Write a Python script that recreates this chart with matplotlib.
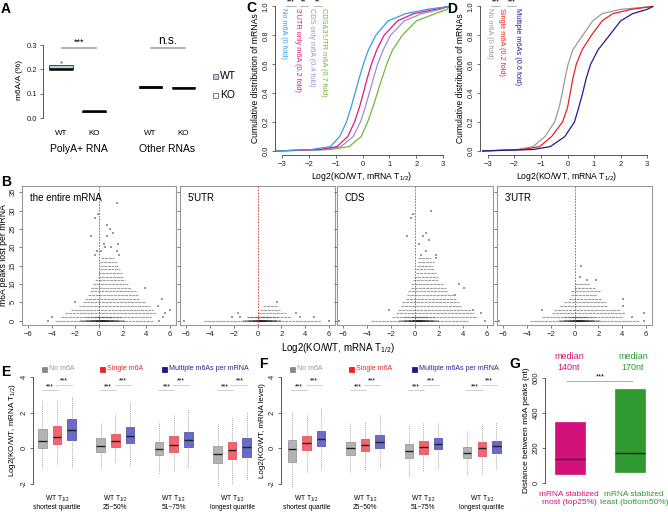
import matplotlib
matplotlib.use('Agg')
import matplotlib.pyplot as plt
from matplotlib.patches import Rectangle

plt.rcParams['font.family'] = ['Liberation Sans', 'DejaVu Sans']
plt.rcParams['mathtext.fontset'] = 'custom'
plt.rcParams['mathtext.rm'] = 'Liberation Sans'
plt.rcParams['mathtext.it'] = 'Liberation Sans:italic'
plt.rcParams['mathtext.bf'] = 'Liberation Sans:bold'

# ---------------- DATA ----------------
# Panel A
a_samples = ['WT', 'KO', 'WT', 'KO']
a_groups = ['PolyA+ RNA', 'Other RNAs']
a_q1 = [0.200, 0.026, 0.124, 0.123]
a_med = [0.201, 0.027, 0.126, 0.125]
a_q3 = [0.217, 0.029, 0.130, 0.126]
a_outliers = [0.232]
a_signif = ['***', 'n.s.']

# Panel C (cumulative distributions: x at given cumulative levels)
cdf_levels = [0.0, 0.01, 0.03, 0.1, 0.2, 0.3, 0.4, 0.5, 0.6, 0.7, 0.8, 0.9, 0.95, 0.98, 1.0]
c_labels = ['No m6A (0 fold)', "3'UTR only m6A (0.2 fold)", 'CDS only m6A (0.4 fold)', "CDS&3'UTR m6A (0.7 fold)"]
c_no = [-3.2, -1.9, -1.2, -0.85, -0.6, -0.43, -0.28, -0.13, 0.03, 0.22, 0.49, 0.95, 1.6, 2.4, 3.2]
c_utr3 = [-3.2, -1.6, -0.95, -0.55, -0.3, -0.12, 0.03, 0.17, 0.33, 0.53, 0.8, 1.3, 1.9, 2.7, 3.2]
c_cds = [-3.2, -1.4, -0.8, -0.35, -0.08, 0.1, 0.25, 0.4, 0.56, 0.77, 1.04, 1.55, 2.2, 2.9, 3.2]
c_both = [-3.2, -1.2, -0.5, -0.05, 0.19, 0.38, 0.55, 0.72, 0.9, 1.12, 1.48, 2.0, 2.7, 3.15, 3.22]
c_signif = ['***', '**', '**']

# Panel D
d_labels = ['No m6A (0 fold)', 'Single m6A (0.2 fold)', 'Multiple m6As (0.6 fold)']
d_no = [-3.2, -1.9, -1.3, -0.85, -0.49, -0.32, -0.2, -0.1, 0.02, 0.2, 0.57, 0.95, 1.3, 2.0, 3.2]
d_single = [-3.2, -1.7, -1.05, -0.6, -0.19, 0.0, 0.1, 0.2, 0.33, 0.55, 0.9, 1.3, 1.7, 2.4, 3.2]
d_multi = [-3.2, -1.3, -0.65, -0.1, 0.26, 0.42, 0.57, 0.7, 0.87, 1.15, 1.58, 2.0, 2.45, 3.0, 3.22]
d_signif = ['***', '***']

# Panel B (rows of points: peaks lost vs log2 fold change)
b_titles = ['the entire mRNA', "5'UTR", 'CDS', "3'UTR"]
b1_lo = [-3.7, -3.2, -2.9, -2.4, -1.7, -1.35, -1.15, -0.93, -0.8, -0.65, -0.5, -0.37, -0.1, -0.05, 0.05, 0.05, 0.1, 0.15]
b1_hi = [4.6, 4.4, 4.8, 4.6, 4.3, 4.0, 3.4, 3.3, 3.15, 2.7, 2.45, 2.2, 2.0, 1.9, 1.75, 1.6, 1.55, 1.3]
b1_px = [1.5, -0.1, -0.3, 0.7, 0.9, 1.2, -0.65, 0.7, 0.4, 1.6, 0.5, 1.05, -0.2, 0.2, 1.5, -0.3, 1.7, 6.0, 5.6, 5.4, -4.3, -4.0, 5.0, 5.3, 3.9, 5.1, -2.0]
b1_py = [32, 29, 28, 26, 25, 24, 23, 23, 21, 21, 20, 20, 19, 19, 19, 18, 18, 3, 2, 1, 0, 1, 4, 6, 9, 0, 5]
b2_lo = [-4.5, -0.85, 0.0, 0.2, 0.45]
b2_hi = [5.3, 2.8, 2.4, 1.9, 1.7]
b2_px = [-2.1, -1.45, 3.6, 4.7, 1.6, -6.2, 6.0, -1.6, 3.2]
b2_py = [1, 1, 1, 1, 5, 0, 0, 2, 2]
b3_lo = [-3.7, -1.9, -1.6, -1.45, -1.2, -1.05, -0.75, -0.67, -0.6, -0.33, -0.33, -0.2, -0.05, 0.08, 0.08, 0.14, 0.22, 0.28]
b3_hi = [4.4, 5.2, 4.9, 4.7, 3.8, 3.7, 3.4, 3.3, 2.7, 2.6, 2.45, 1.9, 1.9, 1.75, 1.6, 1.47, 1.6, 1.33]
b3_px = [-6.3, 5.8, 1.33, -0.2, -0.33, 0.92, -0.67, 0.64, 1.2, 0.36, 0.9, 0.5, 1.75, 1.75, 3.7, 4.1, 3.3, 4.8, 5.5, -2.2]
b3_py = [0, 0, 30, 29, 28, 24, 23, 23, 22, 21, 19, 18, 18, 17, 10, 9, 7, 3, 2, 3]
b4_lo = [-3.7, -2.7, -1.9, -1.7, -1.2, -0.9, -0.5, -0.33, -0.33, -0.05, 0.08]
b4_hi = [5.4, 4.1, 4.25, 3.8, 2.7, 2.6, 2.2, 1.9, 2.2, 1.75, 1.2]
b4_px = [0.55, 0.45, 1.05, 1.8, -6.3, 5.8, 4.8, 5.8, 4.1, 4.1, -2.7]
b4_py = [15, 12, 11, 11, 0, 0, 1, 2, 4, 6, 3]
b_core_lo = [-1.6, -1.2, -1.3, -1.3]
b_core_hi = [2.2, 2.0, 2.0, 2.1]

# Panels E / F (boxplots; per group: [No m6A, Single m6A, Multiple m6As])
ef_series = ['No m6A', 'Single m6A', 'Multiple m6As per mRNA']
ef_groups = ['WT T$_{1/2}$\nshortest quartile', 'WT T$_{1/2}$\n25~50%', 'WT T$_{1/2}$\n51~75%', 'WT T$_{1/2}$\nlongest quartile']
e_med = [[0.40, 0.62, 1.02], [0.12, 0.40, 0.68], [-0.05, 0.18, 0.45], [-0.33, -0.12, 0.05]]
e_q1 = [[0.00, 0.25, 0.48], [-0.20, 0.05, 0.27], [-0.40, -0.20, 0.05], [-0.80, -0.62, -0.50]]
e_q3 = [[1.08, 1.24, 1.62], [0.55, 0.82, 1.17], [0.35, 0.68, 0.93], [0.12, 0.35, 0.57]]
e_lo = [[-1.10, -0.90, -1.10], [-1.10, -0.80, -1.00], [-1.45, -1.30, -1.10], [-2.10, -2.00, -1.80]]
e_hi = [[2.70, 2.75, 2.95], [1.50, 2.00, 2.60], [1.50, 1.90, 2.20], [1.40, 1.75, 2.10]]
f_med = [[-0.06, 0.27, 0.50], [0.00, 0.17, 0.37], [-0.15, 0.05, 0.22], [-0.27, 0.00, 0.12]]
f_q1 = [[-0.75, -0.12, 0.10], [-0.35, -0.18, 0.00], [-0.52, -0.30, -0.05], [-0.55, -0.42, -0.25]]
f_q3 = [[0.47, 0.70, 0.95], [0.38, 0.50, 0.75], [0.22, 0.40, 0.55], [0.05, 0.35, 0.42]]
f_lo = [[-2.20, -1.35, -1.20], [-1.40, -1.20, -1.10], [-1.60, -1.25, -1.10], [-1.50, -1.45, -1.15]]
f_hi = [[2.05, 1.90, 2.25], [1.45, 1.50, 1.85], [1.30, 1.40, 1.50], [0.95, 1.35, 1.45]]
ef_signif = ['***', '***']

# Panel G
g_labels = ['mRNA stablized\nmost (top25%)', 'mRNA stablized\nleast (bottom50%)']
g_q1 = [55, 65]
g_med = [140, 170]
g_q3 = [350, 535]
g_top = ['median\n140nt', 'median\n170nt']
g_signif = '***'

# ---------------- FIGURE ----------------
W, H = 668, 512
fig = plt.figure(figsize=(W / 100, H / 100), dpi=100)


def px_axes(x0, y0, x1, y1):
    return fig.add_axes([x0 / W, 1 - y1 / H, (x1 - x0) / W, (y1 - y0) / H])


def ftext(x, y, s, **kw):
    return fig.text(x / W, 1 - y / H, s, **kw)


def fsquare(x, y, s, color, ec=None):
    fig.add_artist(Rectangle((x / W, 1 - (y + s / 2) / H), s / W, s / H,
                             transform=fig.transFigure, facecolor=color,
                             edgecolor=ec if ec else color, lw=0.6))


def r_style(ax, left=True, bottom=True):
    for s in ['top', 'right']:
        ax.spines[s].set_visible(False)
    ax.spines['left'].set_visible(left)
    ax.spines['bottom'].set_visible(bottom)
    for s in ['left', 'bottom']:
        ax.spines[s].set_color('#555555')
        ax.spines[s].set_linewidth(0.7)
    ax.tick_params(length=2.5, width=0.6, colors='#555555', labelcolor='#222222', labelsize=5.5, pad=1.5)
    ax.patch.set_alpha(0)


TS = 5.5
# ---------- Panel A ----------
axA = px_axes(43, 40, 200, 121)
a_pos = [1, 2, 3.7, 4.7]
statsA = [dict(med=m, q1=a, q3=b, whislo=a, whishi=b, fliers=[]) for m, a, b in zip(a_med, a_q1, a_q3)]
bA = axA.bxp(statsA, positions=a_pos, widths=0.7, patch_artist=True, showcaps=False, showfliers=False,
             medianprops=dict(color='black', lw=1.8), whiskerprops=dict(lw=0),
             boxprops=dict(lw=0.6))
for i, p in enumerate(bA['boxes']):
    p.set_facecolor('#aed2de' if i % 2 == 0 else 'white')
    p.set_edgecolor('#333333')
axA.plot([1] * len(a_outliers), a_outliers, marker='.', ms=1.5, color='#888888', ls='none')
axA.set_xlim(0.455, 5.21)
axA.set_ylim(-0.0123, 0.3206)
r_style(axA, bottom=False)
axA.spines['left'].set_bounds(0, 0.3)
axA.set_yticks([0.0, 0.1, 0.2, 0.3])
axA.set_yticklabels(['0.0', '0.1', '0.2', '0.3'])
axA.set_xticks([])
axA.set_ylabel('m6A/A (%)', fontsize=6, labelpad=3)
for x, s in zip(a_pos, a_samples):
    axA.text(x, -0.065, s, ha='center', va='center', fontsize=5.8, transform=axA.transData, clip_on=False)
axA.text(1.55, -0.128, a_groups[0], ha='center', va='center', fontsize=7.5, clip_on=False)
axA.text(4.2, -0.128, a_groups[1], ha='center', va='center', fontsize=7.5, clip_on=False)
axA.plot([1.03, 2.05], [0.288, 0.288], color='#aaaaaa', lw=1.3, clip_on=False)
axA.plot([3.73, 4.75], [0.288, 0.288], color='#aaaaaa', lw=1.3, clip_on=False)
axA.text(1.54, 0.293, a_signif[0], ha='center', va='bottom', fontsize=6.5)
axA.text(4.24, 0.293, a_signif[1], ha='center', va='bottom', fontsize=8.5)
fsquare(213, 76, 5, '#aed2de', '#666666')
fsquare(213, 95, 5, 'white', '#666666')
ftext(220, 76, 'WT', fontsize=7.5, va='center')
ftext(220, 95, 'KO', fontsize=7.5, va='center')


# ---------- Panels C & D ----------
def cdf_axes(x0, x1, xlim):
    ax = px_axes(x0, 2, x1, 155)
    ax.set_xlim(*xlim)
    ax.set_ylim(-0.028, 1.031)
    r_style(ax)
    ax.spines['left'].set_bounds(0, 1)
    ax.spines['bottom'].set_bounds(-3, 3)
    ax.set_xticks(range(-3, 4))
    ax.set_yticks([0, 0.2, 0.4, 0.6, 0.8, 1.0])
    ax.set_yticklabels(['0.0', '0.2', '0.4', '0.6', '0.8', '1.0'], rotation=90, va='center')
    ax.set_xlabel('Log2(KO/WT, mRNA T$_{1/2}$)', fontsize=6.2, labelpad=2)
    ax.set_ylabel('Cumulative distribution of mRNAs', fontsize=6.2, labelpad=2)
    return ax


axC = cdf_axes(275, 449, (-3.26, 3.22))
c_cols = ['#3a9be6', '#e0197f', '#9c8fd0', '#72b83a']
for xs, col in zip([c_both, c_cds, c_utr3, c_no], c_cols[::-1]):
    axC.plot(xs, cdf_levels, color=col, lw=0.9)
for xp, lab, col in zip([283, 297, 311, 323], c_labels, c_cols):
    ftext(xp, 8, lab, rotation=-90, ha='center', va='top', fontsize=5.3, color=col)
for (x0, x1), s in zip([(286, 296), (300, 308), (314, 322)], c_signif):
    fig.add_artist(plt.Line2D([x0 / W, x1 / W], [1 - 6 / H, 1 - 6 / H], color='#aaaaaa', lw=0.6))
    ftext((x0 + x1) / 2, 5.5, s, ha='center', va='bottom', fontsize=5)

axD = cdf_axes(480, 654, (-3.30, 3.26))
d_cols = ['#9a9a9a', '#ee2020', '#1e1e8c']
for xs, col in zip([d_no, d_single, d_multi], d_cols):
    axD.plot(xs, cdf_levels, color=col, lw=0.9)
for xp, lab, col in zip([489, 502, 517], d_labels, d_cols):
    ftext(xp, 8, lab, rotation=-90, ha='center', va='top', fontsize=5.3, color=col)
for (x0, x1), s in zip([(491, 500), (507, 516)], d_signif):
    fig.add_artist(plt.Line2D([x0 / W, x1 / W], [1 - 6 / H, 1 - 6 / H], color='#aaaaaa', lw=0.6))
    ftext((x0 + x1) / 2, 5.5, s, ha='center', va='bottom', fontsize=5)

# ---------- Panel B ----------
b_xr = [(22, 176), (180, 335), (337, 493), (497, 652)]
b_lo_all = [b1_lo, b2_lo, b3_lo, b4_lo]
b_hi_all = [b1_hi, b2_hi, b3_hi, b4_hi]
b_px_all = [b1_px, b2_px, b3_px, b4_px]
b_py_all = [b1_py, b2_py, b3_py, b4_py]
for i, (x0, x1) in enumerate(b_xr):
    ax = px_axes(x0, 186, x1, 325)
    ax.set_xlim(-6.5, 6.5)
    ax.set_ylim(-1.17, 36.7)
    lo, hi = b_lo_all[i], b_hi_all[i]
    rows = list(range(len(lo)))
    ax.hlines(rows, lo, hi, color='#a0a0a0', lw=0.85, linestyles=[(0, (2.5, 0.6))])
    ax.scatter(b_px_all[i], b_py_all[i], s=1.5, color='#9a9a9a', marker='s', lw=0)
    # dense core shading of the zero row
    cl, ch = b_core_lo[i], b_core_hi[i]
    c = (cl + ch) / 2
    hw = (ch - cl) / 2
    for f in [1.0, 0.75, 0.5, 0.3, 0.15]:
        ax.hlines(0, c - hw * f, c + hw * f, color='black', lw=1.3, alpha=0.3)
    for f in [0.8, 0.4]:
        ax.hlines(1, c - hw * f, c + hw * f, color='black', lw=0.9, alpha=0.2)
    ax.axvline(0, color='#e03030', lw=0.6, ls=(0, (2, 1.5)))
    for s in ax.spines.values():
        s.set_color('#999999')
        s.set_linewidth(0.8)
    ax.tick_params(length=2.5, width=0.6, colors='#666666', labelcolor='#222222', labelsize=TS, pad=1.5)
    ax.set_xticks(range(-6, 7, 2))
    ax.set_yticks(range(0, 36, 5))
    if i == 0:
        ax.set_yticklabels([str(v) for v in range(0, 36, 5)], rotation=90, va='center')
        ax.set_ylabel('m6A peaks lost per mRNA', fontsize=6.2, labelpad=1)
    else:
        ax.set_yticklabels([])
    ax.text(0.05, 0.95, b_titles[i], transform=ax.transAxes, ha='left', va='top', fontsize=7)
ftext(338, 348, 'Log2(KO/WT, mRNA T$_{1/2}$)', ha='center', va='center', fontsize=7)

# ---------- Panels E & F ----------
box_fill = ['#b3b3b3', '#f2646e', '#6a6ac8']
box_edge = ['#9a9a9a', '#dd5560', '#5656b4']
leg_sq = ['#888888', '#ee2222', '#1a1a8a']
leg_txt = ['#999999', '#ee2222', '#22229a']


def box_panel(x0, x1, first_px, med, q1, q3, lo, hi, ylab, leg_x):
    u = 14.6
    ax = px_axes(x0, 373.4, x1, 487.5)
    ax.set_xlim(-(first_px - x0) / u, (x1 - first_px) / u)
    ax.set_ylim(-2.2, 4.2)
    stats, pos = [], []
    for g in range(4):
        for k in range(3):
            stats.append(dict(med=med[g][k], q1=q1[g][k], q3=q3[g][k],
                              whislo=lo[g][k], whishi=hi[g][k], fliers=[]))
            pos.append(4 * g + k)
    b = ax.bxp(stats, positions=pos, widths=0.58, patch_artist=True, showcaps=False, showfliers=False,
               whiskerprops=dict(color='#aaaaaa', lw=0.7, ls=(0, (1, 1))),
               medianprops=dict(color='#222222', lw=1.0), boxprops=dict(lw=0.6))
    for j, p in enumerate(b['boxes']):
        p.set_facecolor(box_fill[j % 3])
        p.set_edgecolor(box_edge[j % 3])
    for g in range(4):
        for k, yv in zip([0, 1], [3.25, 3.55]):
            ax.plot([4 * g + k - 0.05, 4 * g + k + 1.05], [yv, yv], color='#c8c8c8', lw=0.6)
            ax.text(4 * g + k + 0.5, yv + 0.02, ef_signif[k], ha='center', va='bottom', fontsize=5)
        gx = first_px + u * (4 * g + 1)
        ftext(gx, 502.5, ef_groups[g], ha='center', va='center', fontsize=4.8, linespacing=1.05)
    r_style(ax, bottom=False)
    ax.spines['left'].set_bounds(-2, 4)
    ax.set_xticks([])
    ax.set_yticks([-2, 0, 2, 4])
    ax.set_yticklabels(['-2', '0', '2', '4'], rotation=90, va='center')
    ax.set_ylabel(ylab, fontsize=5.8, labelpad=2)
    for xs, lab, sc, tc in zip(leg_x, ef_series, leg_sq, leg_txt):
        fsquare(xs, 369, 5, sc)
        ftext(xs + 7, 369, lab, ha='left', va='center', fontsize=5, color=tc)
    return ax


box_panel(33, 262, 42.3, e_med, e_q1, e_q3, e_lo, e_hi, 'Log2(KO/WT, mRNA T$_{1/2}$)', [42, 100, 162])
box_panel(281, 522, 292, f_med, f_q1, f_q3, f_lo, f_hi, 'Log2(KO/WT, mRNA level)', [290, 349, 412])

# ---------- Panel G ----------
axG = px_axes(545, 370, 665, 490)
axG.set_xlim(0.583, 2.58)
axG.set_ylim(-38, 644)
g_cols = ['#d2127a', '#2f9a2f']
statsG = [dict(med=m, q1=a, q3=b, whislo=a, whishi=b, fliers=[]) for m, a, b in zip(g_med, g_q1, g_q3)]
bG = axG.bxp(statsG, positions=[1, 2], widths=0.5, patch_artist=True, showcaps=False, showfliers=False,
             whiskerprops=dict(lw=0), medianprops=dict(color='#222222', lw=1.0), boxprops=dict(lw=0.5))
for p, c in zip(bG['boxes'], g_cols):
    p.set_facecolor(c)
    p.set_edgecolor(c)
axG.plot([0.95, 2.03], [583, 583], color='#aaaaaa', lw=0.7)
axG.text(1.5, 585, g_signif, ha='center', va='bottom', fontsize=5.5)
r_style(axG, bottom=False)
axG.spines['left'].set_bounds(0, 600)
axG.set_xticks([])
axG.set_yticks([0, 200, 400, 600])
axG.set_yticklabels(['0', '200', '400', '600'], rotation=90, va='center')
axG.set_ylabel('Distance between m6A peaks (nt)', fontsize=6.0, labelpad=2)
for x, s, c in zip([569, 633], g_top, g_cols):
    ftext(x, 362, s, ha='center', va='center', fontsize=6.5, color=c, linespacing=1.3)
for x, s, c in zip([569, 634], g_labels, g_cols):
    ftext(x, 498.5, s, ha='center', va='center', fontsize=6.0, color=c, linespacing=1.15)

# ---------- Panel letters ----------
for (x, y), s in zip([(6, 9), (6, 182), (251, 8), (452, 9), (6, 372), (263, 364), (515, 364)],
                     ['A', 'B', 'C', 'D', 'E', 'F', 'G']):
    ftext(x, y, s, ha='center', va='center', fontsize=10, fontweight='bold')

fig.savefig('out.png', dpi=100)
